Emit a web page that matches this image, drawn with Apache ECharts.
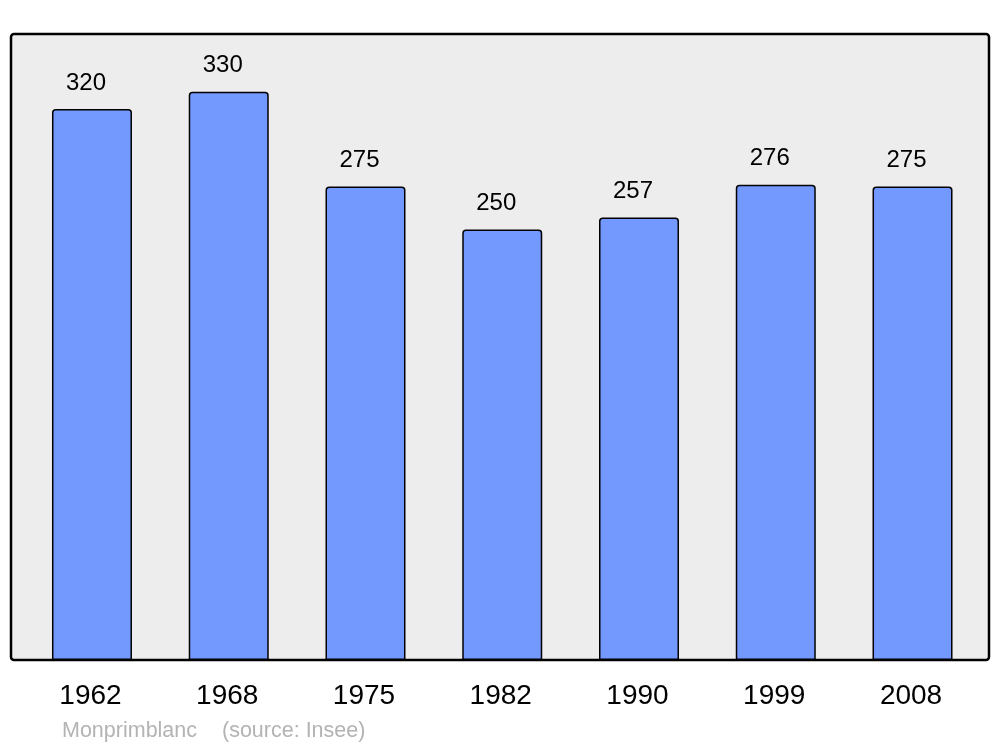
<!DOCTYPE html>
<html><head><meta charset="utf-8">
<script src="https://cdn.jsdelivr.net/npm/echarts@6/dist/echarts.min.js"></script>
<style>html,body{margin:0;padding:0;background:#fff}#c{width:1000px;height:747px}</style>
</head><body><div id="c"></div>
<script>
const years = ['1962','1968','1975','1982','1990','1999','2008'];
const population = [320,330,275,250,257,276,275];
const footerName = 'Monprimblanc';
const footerSource = '(source: Insee)';

const chart = echarts.init(document.getElementById('c'));
chart.setOption({
  animation:false,
  backgroundColor:'#ffffff',
  grid:{left:23.6, width:957.3, top:34, height:626, containLabel:false},
  graphic:[
    {type:'rect', z:-10, shape:{x:11,y:34,width:978,height:626,r:3}, style:{fill:'#ededed', stroke:'#000', lineWidth:2.5}},
    {type:'text', left:62, top:720, style:{text:footerName, fill:'#b3b3b3', font:'21.5px "Liberation Sans", Arial, sans-serif'}},
    {type:'text', left:222, top:720, style:{text:footerSource, fill:'#b3b3b3', font:'21.5px "Liberation Sans", Arial, sans-serif'}}
  ],
  xAxis:{type:'category', data:years, axisLine:{show:false}, axisTick:{show:false},
    axisLabel:{fontSize:28, color:'#000', fontFamily:'Liberation Sans', margin:22, padding:[0,3,0,0]}},
  yAxis:{type:'value', min:0, max:363.5, show:false, splitLine:{show:false}},
  series:[{type:'bar', data:population, barWidth:80,
    itemStyle:{color:'#7399ff', borderColor:'#000', borderWidth:1.5, borderRadius:[3,3,0,0]},
    label:{show:true, position:'top', distance:14, offset:[-6,0], fontSize:24, color:'#000', fontFamily:'Liberation Sans'}
  }]
});
</script></body></html>
